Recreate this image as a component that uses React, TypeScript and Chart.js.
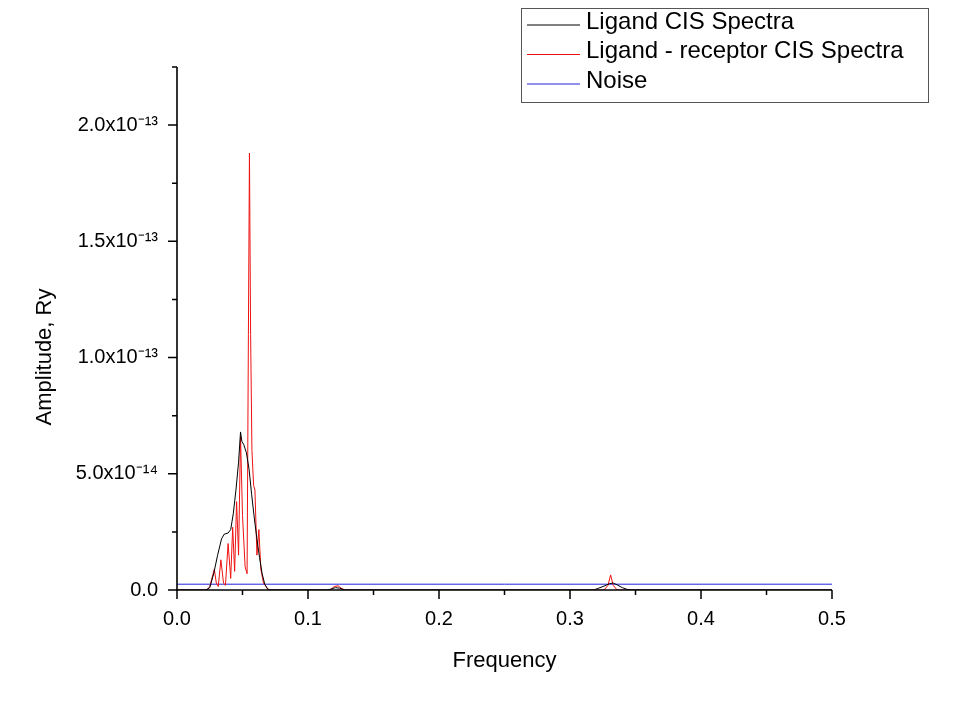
import React, { useEffect, useRef } from 'react';
import { Chart, registerables } from 'chart.js';

Chart.register(...registerables);

// ---------- data ----------
const seriesNames = ['Ligand CIS Spectra', 'Ligand - receptor CIS Spectra', 'Noise'];
const seriesColors = ['#000000', '#ee1111', '#2222dd'];

const ligandFreq = [
  0, 0.022, 0.025, 0.028, 0.031, 0.034, 0.036, 0.039, 0.041, 0.043, 0.045, 0.047, 0.0485,
  0.0495, 0.051, 0.053, 0.055, 0.057, 0.059, 0.061, 0.063, 0.065, 0.067, 0.069, 0.071,
  0.115, 0.118, 0.121, 0.124, 0.128,
  0.318, 0.322, 0.326, 0.33, 0.333, 0.336, 0.34, 0.344, 0.347, 0.5,
];
const ligandAmp = [
  0, 0, 1e-15, 7e-15, 1.5e-14, 2.2e-14, 2.4e-14, 2.45e-14, 2.6e-14, 3.3e-14, 4.3e-14, 5.5e-14, 6.8e-14,
  6.4e-14, 6.25e-14, 5.9e-14, 5.2e-14, 4.1e-14, 3.1e-14, 2.2e-14, 1.4e-14, 7e-15, 2.5e-15, 5e-16, 0,
  0, 5e-16, 1e-15, 8e-16, 0,
  0, 8e-16, 1.7e-15, 2.7e-15, 3e-15, 2.2e-15, 1e-15, 2e-16, 0, 0,
];

const complexFreq = [
  0, 0.023, 0.025, 0.0285, 0.03, 0.0315, 0.0335, 0.0355, 0.037, 0.039, 0.041, 0.0425, 0.044,
  0.0455, 0.047, 0.0485, 0.05, 0.052, 0.0535, 0.0545, 0.0553, 0.0562, 0.0572, 0.0585, 0.0595,
  0.061, 0.0625, 0.064, 0.066, 0.068, 0.07,
  0.117, 0.12, 0.123, 0.126, 0.129,
  0.326, 0.329, 0.331, 0.333, 0.336, 0.5,
];
const complexAmp = [
  0, 0, 1.5e-15, 9e-15, 3e-15, 1.5e-15, 1.3e-14, 3e-15, 2e-15, 2.0e-14, 5e-15, 2.7e-14, 8e-15,
  3.8e-14, 1.5e-14, 6.6e-14, 3.2e-14, 1.0e-14, 7e-15, 1.1e-13, 1.88e-13, 1.1e-13, 6.0e-14, 4.5e-14, 4.3e-14,
  1.5e-14, 2.6e-14, 9e-15, 3e-15, 1.5e-15, 0,
  0, 1.5e-15, 1.8e-15, 5e-16, 0,
  0, 2e-15, 6.5e-15, 2e-15, 0, 0,
];

const noiseFreq = [0, 0.5];
const noiseAmp = [2.5e-15, 2.5e-15];

const xMajorTicks = [0, 0.1, 0.2, 0.3, 0.4, 0.5];
const xTickLabels = ['0.0', '0.1', '0.2', '0.3', '0.4', '0.5'];
const xMinorTicks = [0.05, 0.15, 0.25, 0.35, 0.45];

const yMajorTicks = [0, 5e-14, 1e-13, 1.5e-13, 2e-13];
const yTickLabels = ['0.0', '5.0x10\u207B\u00B9\u2074', '1.0x10\u207B\u00B9\u00B3', '1.5x10\u207B\u00B9\u00B3', '2.0x10\u207B\u00B9\u00B3'];
const yMinorTicks = [2.5e-14, 7.5e-14, 1.25e-13, 1.75e-13, 2.25e-13];

const xTitle = 'Frequency';
const yTitle = 'Amplitude, Ry';

const FONT = "'Liberation Sans', Arial, sans-serif";

const toPoints = (xs: number[], ys: number[]) => xs.map((x, i) => ({ x, y: ys[i] }));

// ---------- plugins ----------
const axesPlugin = {
  id: 'originAxes',
  afterDatasetsDraw(chart: any) {
    const { ctx, chartArea, scales } = chart;
    const xs = scales.x;
    const ys = scales.y;
    ctx.save();
    ctx.strokeStyle = '#000';
    ctx.lineWidth = 1.6;
    ctx.beginPath();
    ctx.moveTo(chartArea.left, chartArea.top);
    ctx.lineTo(chartArea.left, chartArea.bottom);
    ctx.lineTo(chartArea.right, chartArea.bottom);
    ctx.stroke();
    ctx.lineWidth = 1.5;
    ctx.beginPath();
    xMajorTicks.forEach((v) => {
      const px = xs.getPixelForValue(v);
      ctx.moveTo(px, chartArea.bottom);
      ctx.lineTo(px, chartArea.bottom + 9);
    });
    xMinorTicks.forEach((v) => {
      const px = xs.getPixelForValue(v);
      ctx.moveTo(px, chartArea.bottom);
      ctx.lineTo(px, chartArea.bottom + 5);
    });
    yMajorTicks.forEach((v) => {
      const py = ys.getPixelForValue(v);
      ctx.moveTo(chartArea.left, py);
      ctx.lineTo(chartArea.left - 9, py);
    });
    yMinorTicks.forEach((v) => {
      const py = ys.getPixelForValue(v);
      ctx.moveTo(chartArea.left, py);
      ctx.lineTo(chartArea.left - 5, py);
    });
    ctx.stroke();

    // y axis title
    ctx.fillStyle = '#000';
    ctx.font = `22px ${FONT}`;
    ctx.textAlign = 'center';
    ctx.textBaseline = 'middle';
    ctx.translate(45, 357);
    ctx.rotate(-Math.PI / 2);
    ctx.fillText(yTitle, 0, 0);
    ctx.restore();
  },
};

const legendPlugin = {
  id: 'boxLegend',
  afterDraw(chart: any) {
    const { ctx } = chart;
    ctx.save();
    const bx = 521, by = 8, bw = 407, bh = 94;
    ctx.fillStyle = '#fff';
    ctx.fillRect(bx, by, bw, bh);
    ctx.strokeStyle = '#555';
    ctx.lineWidth = 1;
    ctx.strokeRect(bx + 0.5, by + 0.5, bw, bh);
    ctx.font = `24px ${FONT}`;
    ctx.textBaseline = 'middle';
    ctx.textAlign = 'left';
    seriesNames.forEach((name, i) => {
      const cy = 22 + i * 29.5;
      ctx.strokeStyle = seriesColors[i];
      ctx.lineWidth = 1;
      ctx.beginPath();
      ctx.moveTo(527, cy + 3);
      ctx.lineTo(580, cy + 3);
      ctx.stroke();
      ctx.fillStyle = '#000';
      ctx.fillText(name, 586, cy);
    });
    ctx.restore();
  },
};

export default function App() {
  const canvasRef = useRef<HTMLCanvasElement | null>(null);

  useEffect(() => {
    const canvas = canvasRef.current;
    if (!canvas) return;
    const chart = new Chart(canvas, {
      type: 'scatter',
      data: {
        datasets: [
          {
            label: seriesNames[0],
            data: toPoints(ligandFreq, ligandAmp),
            borderColor: seriesColors[0],
            backgroundColor: seriesColors[0],
            borderWidth: 1,
            showLine: true,
            pointRadius: 0,
            tension: 0,
          },
          {
            label: seriesNames[1],
            data: toPoints(complexFreq, complexAmp),
            borderColor: seriesColors[1],
            backgroundColor: seriesColors[1],
            borderWidth: 1,
            showLine: true,
            pointRadius: 0,
            tension: 0,
          },
          {
            label: seriesNames[2],
            data: toPoints(noiseFreq, noiseAmp),
            borderColor: seriesColors[2],
            backgroundColor: seriesColors[2],
            borderWidth: 1,
            showLine: true,
            pointRadius: 0,
            tension: 0,
          },
        ],
      },
      options: {
        responsive: false,
        animation: false,
        layout: { padding: { top: 67, right: 131, left: 0, bottom: 0 } },
        plugins: {
          legend: { display: false },
          tooltip: { enabled: false },
        },
        scales: {
          x: {
            type: 'linear',
            min: 0,
            max: 0.5,
            grid: { display: false },
            border: { display: false },
            afterBuildTicks: (s: any) => {
              s.ticks = xMajorTicks.map((v) => ({ value: v }));
            },
            afterFit: (s: any) => {
              s.height = 129;
            },
            ticks: {
              autoSkip: false,
              maxRotation: 0,
              padding: 9,
              color: '#000',
              font: { family: FONT, size: 20 },
              callback: (_v: any, i: number) => xTickLabels[i],
            },
            title: {
              display: true,
              text: xTitle,
              color: '#000',
              font: { family: FONT, size: 22 },
              padding: { top: 0, bottom: 45 },
            },
          },
          y: {
            type: 'linear',
            min: 0,
            max: 2.25e-13,
            grid: { display: false },
            border: { display: false },
            afterBuildTicks: (s: any) => {
              s.ticks = yMajorTicks.map((v) => ({ value: v }));
            },
            afterFit: (s: any) => {
              s.width = 177;
            },
            ticks: {
              autoSkip: false,
              padding: 11,
              color: '#000',
              font: { family: FONT, size: 20 },
              callback: (_v: any, i: number) => yTickLabels[i],
            },
          },
        },
      } as any,
      plugins: [axesPlugin, legendPlugin],
    });
    return () => chart.destroy();
  }, []);

  return (
    <div style={{ position: 'absolute', left: 0, top: 0, width: 963, height: 719, background: '#fff' }}>
      <canvas ref={canvasRef} width={963} height={719} style={{ display: 'block' }} />
    </div>
  );
}
